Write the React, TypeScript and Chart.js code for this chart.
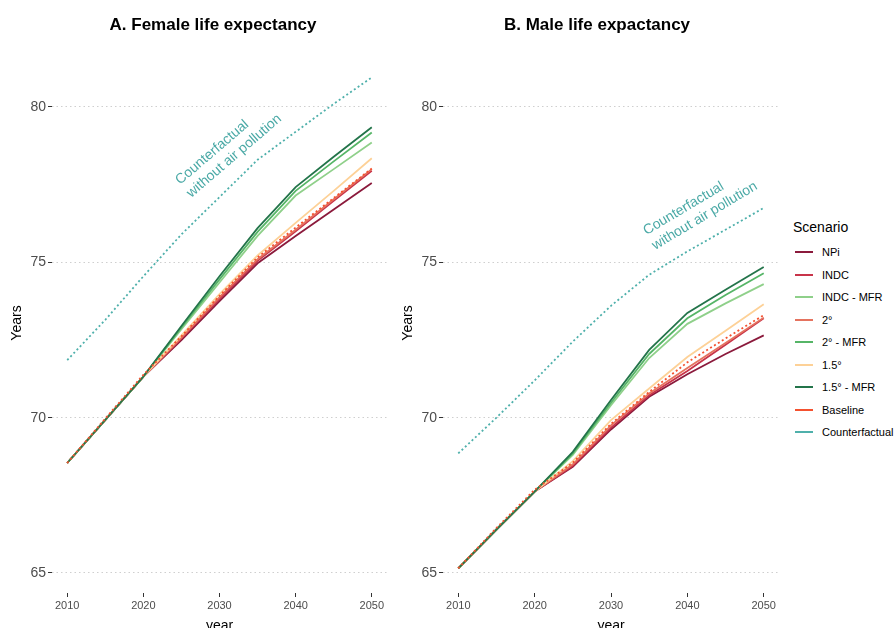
import { useEffect, useRef } from "react";
import { Chart, registerables } from "chart.js";

Chart.register(...registerables);

// Years covered by every scenario (5-year steps)
const years = [2010, 2015, 2020, 2025, 2030, 2035, 2040, 2045, 2050];
const xTicks = [2010, 2020, 2030, 2040, 2050];
const yTicks = [65, 70, 75, 80];

const scenarioNames = [
  "NPi",
  "INDC",
  "INDC - MFR",
  "2°",
  "2° - MFR",
  "1.5°",
  "1.5° - MFR",
  "Baseline",
  "Counterfactual",
];
const scenarioColors = [
  "#8b1a3c",
  "#c8344a",
  "#8fd08a",
  "#e5735f",
  "#56b567",
  "#fdd197",
  "#23744a",
  "#f4512f",
  "#4fb0ab",
];

// Female life expectancy (years)
const femaleNPi = [68.54, 69.93, 71.32, 72.5, 73.75, 74.97, 75.85, 76.7, 77.55];
const femaleINDC = [68.54, 69.93, 71.32, 72.55, 73.82, 75.05, 76.0, 76.98, 77.95];
const femaleINDCMFR = [68.54, 69.93, 71.32, 72.85, 74.35, 75.85, 77.15, 78.0, 78.86];
const female2 = [68.54, 69.93, 71.32, 72.58, 73.88, 75.1, 76.05, 77.03, 78.0];
const female2MFR = [68.54, 69.93, 71.32, 72.9, 74.45, 75.98, 77.3, 78.25, 79.18];
const female15 = [68.54, 69.93, 71.32, 72.65, 73.98, 75.22, 76.27, 77.3, 78.35];
const female15MFR = [68.54, 69.93, 71.32, 72.95, 74.55, 76.1, 77.42, 78.4, 79.35];
const femaleBaseline = [68.54, 69.97, 71.38, 72.62, 73.92, 75.16, 76.12, 77.07, 78.02];
const femaleCounterfactual = [71.85, 73.15, 74.55, 75.9, 77.1, 78.3, 79.2, 80.1, 80.95];

// Male life expectancy (years)
const maleNPi = [65.15, 66.4, 67.62, 68.42, 69.62, 70.67, 71.4, 72.05, 72.65];
const maleINDC = [65.15, 66.4, 67.62, 68.45, 69.68, 70.72, 71.5, 72.35, 73.2];
const maleINDCMFR = [65.15, 66.4, 67.62, 68.8, 70.4, 71.92, 73.02, 73.68, 74.3];
const male2 = [65.15, 66.4, 67.62, 68.5, 69.75, 70.78, 71.6, 72.4, 73.22];
const male2MFR = [65.15, 66.4, 67.62, 68.85, 70.48, 72.05, 73.2, 73.95, 74.65];
const male15 = [65.15, 66.4, 67.62, 68.6, 69.92, 70.94, 71.95, 72.8, 73.65];
const male15MFR = [65.15, 66.4, 67.62, 68.9, 70.57, 72.18, 73.37, 74.12, 74.85];
const maleBaseline = [65.15, 66.45, 67.68, 68.55, 69.8, 70.83, 71.78, 72.55, 73.3];
const maleCounterfactual = [68.85, 70.0, 71.2, 72.45, 73.6, 74.6, 75.35, 76.05, 76.75];

const femaleSeries = [
  femaleNPi,
  femaleINDC,
  femaleINDCMFR,
  female2,
  female2MFR,
  female15,
  female15MFR,
  femaleBaseline,
  femaleCounterfactual,
];
const maleSeries = [
  maleNPi,
  maleINDC,
  maleINDCMFR,
  male2,
  male2MFR,
  male15,
  male15MFR,
  maleBaseline,
  maleCounterfactual,
];

const dottedScenarios = ["Baseline", "Counterfactual"];

const FONT = "'Liberation Sans', Arial, Helvetica, sans-serif";
const Y_MIN = 64.356;
const Y_MAX = 81.738;

const panelTitlePlugin = {
  id: "panelTitle",
  afterDraw(chart: any, _args: any, opts: any) {
    const ctx = chart.ctx;
    ctx.save();
    ctx.font = `bold 17px ${FONT}`;
    ctx.fillStyle = "#000";
    ctx.textAlign = "center";
    ctx.textBaseline = "middle";
    ctx.fillText(opts.text, opts.x, opts.y);
    ctx.restore();
  },
};

const notePlugin = {
  id: "curveNote",
  afterDatasetsDraw(chart: any, _args: any, opts: any) {
    const ctx = chart.ctx;
    const cx = chart.scales.x.getPixelForValue(opts.x);
    const cy = chart.scales.y.getPixelForValue(opts.y);
    const lines: string[] = opts.lines;
    ctx.save();
    ctx.font = `14px ${FONT}`;
    ctx.fillStyle = "#4aa9a6";
    ctx.textAlign = "left";
    ctx.textBaseline = "middle";
    ctx.translate(cx, cy);
    ctx.rotate((opts.angle * Math.PI) / 180);
    const widest = Math.max(...lines.map((l) => ctx.measureText(l).width));
    const lh = 17;
    lines.forEach((l, i) => {
      ctx.fillText(l, -widest / 2, (i - (lines.length - 1) / 2) * lh);
    });
    ctx.restore();
  },
};

function buildConfig(
  series: number[][],
  title: string,
  titleX: number,
  padRight: number,
  note: { x: number; y: number; angle: number }
) {
  // later scenarios in the list are painted on top of earlier ones
  const datasets = scenarioNames.map((name, i) => ({
    label: name,
    data: years.map((yr, k) => ({ x: yr, y: series[i][k] })),
    borderColor: scenarioColors[i],
    backgroundColor: scenarioColors[i],
    borderWidth: 1.8,
    borderDash: dottedScenarios.includes(name) ? [2, 2.6] : [],
    pointRadius: 0,
    tension: 0,
    order: scenarioNames.length - i,
  }));

  return {
    type: "line",
    data: { datasets },
    plugins: [panelTitlePlugin, notePlugin],
    options: {
      responsive: false,
      animation: false,
      events: [],
      layout: { padding: { top: 53, right: padRight, left: 0, bottom: 0 } },
      plugins: {
        legend: { display: false },
        tooltip: { enabled: false },
        title: { display: false },
        panelTitle: { text: title, x: titleX, y: 25 },
        curveNote: {
          x: note.x,
          y: note.y,
          angle: note.angle,
          lines: ["Counterfactual", "without air pollution"],
        },
      },
      scales: {
        x: {
          type: "linear",
          min: 2008,
          max: 2052,
          afterBuildTicks: (s: any) => {
            s.ticks = xTicks.map((v) => ({ value: v }));
          },
          afterFit: (s: any) => {
            s.height = 35;
          },
          grid: {
            drawOnChartArea: false,
            drawTicks: true,
            tickLength: 4,
            tickColor: "#333333",
            tickWidth: 1,
          },
          border: { display: false },
          ticks: {
            color: "#4d4d4d",
            font: { size: 11, family: FONT },
            padding: 2,
            maxRotation: 0,
            autoSkip: false,
            callback: (v: any) => String(v),
          },
          title: {
            display: true,
            text: "year",
            color: "#000",
            font: { size: 14, family: FONT },
            padding: { top: 0, bottom: -7 },
          },
        },
        y: {
          type: "linear",
          min: Y_MIN,
          max: Y_MAX,
          afterBuildTicks: (s: any) => {
            s.ticks = yTicks.map((v) => ({ value: v }));
          },
          afterFit: (s: any) => {
            s.width = 52;
          },
          grid: {
            color: "#cfcfcf",
            lineWidth: 1,
            drawTicks: true,
            tickLength: 4,
            tickColor: "#333333",
            tickWidth: 1,
            tickBorderDash: [],
          },
          border: { display: false, dash: [1.5, 3] },
          ticks: {
            color: "#4d4d4d",
            font: { size: 14, family: FONT },
            padding: 2,
            autoSkip: false,
            callback: (v: any) => String(v),
          },
          title: {
            display: true,
            text: "Years",
            color: "#000",
            font: { size: 14, family: FONT },
            padding: { top: 8.6, bottom: 0 },
          },
        },
      },
    },
  } as any;
}

function Panel(props: {
  left: number;
  series: number[][];
  title: string;
  titleX: number;
  padRight: number;
  note: { x: number; y: number; angle: number };
}) {
  const ref = useRef<HTMLCanvasElement>(null);
  useEffect(() => {
    if (!ref.current) return;
    const chart = new Chart(
      ref.current,
      buildConfig(props.series, props.title, props.titleX, props.padRight, props.note)
    );
    return () => chart.destroy();
  }, []);
  return (
    <canvas
      ref={ref}
      width={400}
      height={628}
      style={{ position: "absolute", left: props.left, top: 0, width: 400, height: 628 }}
    />
  );
}

function Legend() {
  return (
    <div style={{ position: "absolute", left: 793, top: 219, fontFamily: FONT, color: "#000" }}>
      <div style={{ fontSize: 14, lineHeight: "16px", height: 16 }}>Scenario</div>
      {scenarioNames.map((name, i) => (
        <div
          key={name}
          style={{
            position: "absolute",
            left: 0,
            top: 25 + 22.5 * i,
            height: 16,
            display: "flex",
            alignItems: "center",
            whiteSpace: "nowrap",
          }}
        >
          <div
            style={{
              marginLeft: 2,
              width: 18,
              height: 2,
              background: scenarioColors[i],
            }}
          />
          <span style={{ marginLeft: 9, fontSize: 11 }}>{name}</span>
        </div>
      ))}
    </div>
  );
}

export default function App() {
  return (
    <div
      style={{
        position: "absolute",
        left: 0,
        top: 0,
        width: 895,
        height: 628,
        background: "#fff",
        overflow: "hidden",
      }}
    >
      <Panel
        left={0}
        series={femaleSeries}
        title="A. Female life expectancy"
        titleX={213}
        padRight={13}
        note={{ x: 2031.2, y: 78.63, angle: -40.6 }}
      />
      <Panel
        left={391}
        series={maleSeries}
        title="B. Male life expactancy"
        titleX={206}
        padRight={12}
        note={{ x: 2041.7, y: 76.73, angle: -30.8 }}
      />
      <Legend />
    </div>
  );
}
